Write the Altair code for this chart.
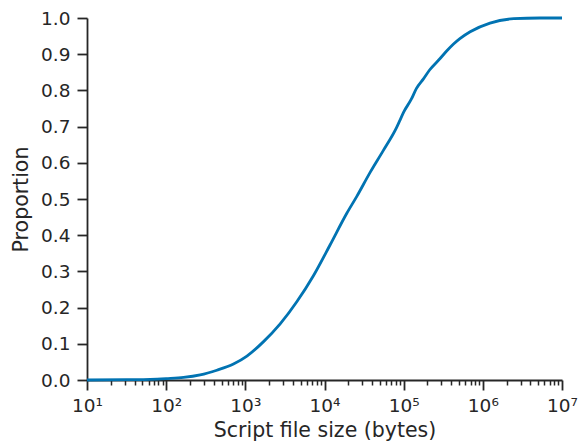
import altair as alt
import pandas as pd

# ECDF of script file sizes
sizes = [10, 32, 63, 100, 166, 269, 437, 708, 1047, 1698, 2754, 4467, 7244,
         11749, 19055, 25704, 38019, 54954, 81283, 90000, 100000, 125893,
         144544, 177828, 213796, 288403, 346737, 426580, 512861, 691831,
         1230269, 2454709, 5248075, 10000000]
proportion = [0.0, 0.001, 0.002, 0.004, 0.007, 0.014, 0.027, 0.044, 0.066,
              0.106, 0.155, 0.216, 0.288, 0.373, 0.460, 0.508, 0.575, 0.633,
              0.697, 0.718, 0.740, 0.777, 0.805, 0.832, 0.857, 0.888, 0.908,
              0.928, 0.943, 0.962, 0.986, 0.998, 1.0, 1.0]

major_ticks = [10, 100, 1000, 10000, 100000, 1000000, 10000000]
minor_ticks = [m * 10 ** k for k in range(1, 7) for m in range(2, 10)]
x_tick_values = sorted(major_ticks + minor_ticks)
y_tick_values = [0.0, 0.1, 0.2, 0.3, 0.4, 0.5, 0.6, 0.7, 0.8, 0.9, 1.0]

df = pd.DataFrame({"size": sizes, "proportion": proportion})

is_major = "abs(log(datum.value)/LN10 - round(log(datum.value)/LN10)) < 0.001"
label_expr = (
    f"({is_major}) ? '10' + ['⁰','¹','²','³','⁴','⁵','⁶','⁷','⁸']"
    "[round(log(datum.value)/LN10)] : ''"
)

dark = "#262626"

chart = alt.Chart(df).mark_line(
    color="#0173b2", strokeWidth=2.8, interpolate="monotone"
).encode(
    x=alt.X(
        "size:Q",
        scale=alt.Scale(type="log", domain=[10, 10000000], nice=False),
        axis=alt.Axis(
            title="Script file size (bytes)",
            values=x_tick_values,
            labelExpr=label_expr,
            tickSize={"condition": {"test": is_major, "value": 10}, "value": 5},
            tickWidth={"condition": {"test": is_major, "value": 1.8}, "value": 1.5},
            labelPadding=6,
            titlePadding=6,
            labelOverlap=False,
            labelFlush=False,
        ),
    ),
    y=alt.Y(
        "proportion:Q",
        scale=alt.Scale(domain=[0, 1], nice=False),
        axis=alt.Axis(
            title="Proportion",
            values=y_tick_values,
            format=".1f",
            tickSize=10,
            tickWidth=1.8,
            labelPadding=7,
            titlePadding=9,
        ),
    ),
).properties(
    width=475,
    height=362,
    padding={"left": 87, "top": 18, "right": 20, "bottom": 68},
    autosize=alt.AutoSizeParams(type="none"),
).configure_view(
    stroke=None
).configure_axis(
    grid=False,
    domainColor=dark,
    domainWidth=1.8,
    tickColor=dark,
    labelColor=dark,
    titleColor=dark,
    labelFont="DejaVu Sans",
    titleFont="DejaVu Sans",
    labelFontSize=18.5,
    titleFontSize=20.5,
    titleFontWeight="normal",
)

chart.save("out.html", embed_options={"renderer": "svg", "actions": False})
